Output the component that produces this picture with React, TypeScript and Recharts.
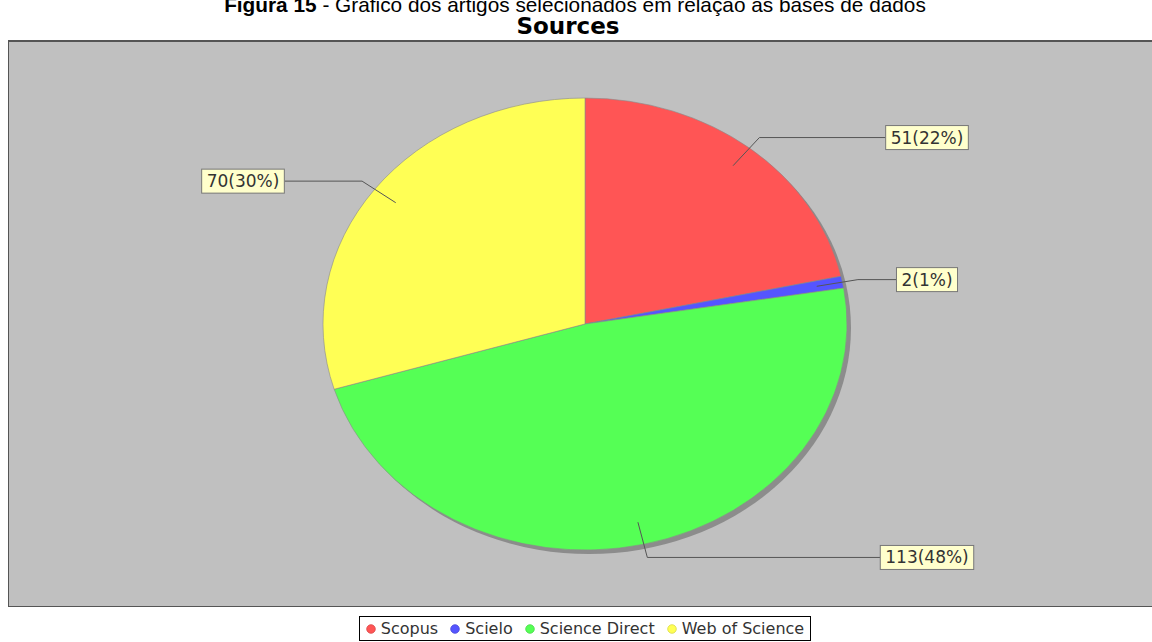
import React from "react";
import { Cell, Legend, Pie, PieChart } from "recharts";

const sourceNames = ["Scopus", "Scielo", "Science Direct", "Web of Science"];
const articleCounts = [51, 2, 113, 70];
const sliceColors = ["#FF5555", "#5555FF", "#55FF55", "#FFFF55"];
const legendEdges = ["#d94848", "#4848d9", "#48d948", "#d9d948"];

const data = sourceNames.map((name, i) => ({ name, value: articleCounts[i] }));

const START_ANGLE = 90;
const Y_SCALE = 226 / 262;
const LABEL_FONT = 17;

const pt = (cx: number, cy: number, r: number, deg: number) => {
  const a = (deg * Math.PI) / 180;
  return [cx + r * Math.cos(a), cy - r * Y_SCALE * Math.sin(a)];
};

// JFreeChart draws the pie as an ellipse, so the sectors are squashed here
const EllipseSector = (props: any) => {
  const { cx, cy, outerRadius, startAngle, endAngle, fill } = props;
  const [x1, y1] = pt(cx, cy, outerRadius, startAngle);
  const [x2, y2] = pt(cx, cy, outerRadius, endAngle);
  const large = Math.abs(startAngle - endAngle) > 180 ? 1 : 0;
  const sweep = startAngle > endAngle ? 1 : 0;
  const d = `M${cx},${cy} L${x1},${y1} A${outerRadius},${outerRadius * Y_SCALE} 0 ${large} ${sweep} ${x2},${y2} Z`;
  return (
    <g>
      {startAngle === START_ANGLE && (
        <ellipse cx={cx + 4} cy={cy + 4} rx={outerRadius} ry={outerRadius * Y_SCALE} fill="#8c8c8c" />
      )}
      <path d={d} fill={fill} stroke="#8a8a8a" strokeWidth={0.6} />
    </g>
  );
};

const charW = (ch: string) => (/\d/.test(ch) ? 0.636 : ch === "%" ? 0.95 : 0.39);

const renderLabel = (props: any) => {
  const { cx, cy, midAngle, outerRadius, value, percent } = props;
  const text = `${value}(${Math.round(percent * 100)}%)`;
  const [ax, ay] = pt(cx, cy, outerRadius * 0.9, midAngle);
  const [ex, ey] = pt(cx, cy, outerRadius * 1.06, midAngle);
  const right = Math.cos((midAngle * Math.PI) / 180) >= 0;
  const tw = [...text].reduce((s, c) => s + charW(c), 0) * LABEL_FONT;
  const bw = tw + 10;
  const bh = 24;
  const bx = cx + (right ? 342 : -342) - bw / 2;
  const edge = right ? bx : bx + bw;
  return (
    <g>
      <polyline
        points={`${ax},${ay} ${ex},${ey} ${edge},${ey}`}
        fill="none"
        stroke="#555"
        strokeWidth={1}
      />
      <rect x={bx} y={ey - bh / 2} width={bw} height={bh} fill="#FFFFCC" stroke="#777" strokeWidth={1} />
      <text
        x={bx + bw / 2}
        y={ey + 6}
        textAnchor="middle"
        fontFamily="DejaVu Sans"
        fontSize={LABEL_FONT}
        fill="#333"
      >
        {text}
      </text>
    </g>
  );
};

const LegendBox = () => (
  <div style={{ display: "flex", justifyContent: "center", paddingLeft: 18 }}>
    <div
      style={{
        display: "flex",
        alignItems: "center",
        border: "1px solid #000",
        height: 23,
        padding: "0 6px",
        background: "#fff",
        fontFamily: "DejaVu Sans",
        fontSize: 16,
        color: "#333",
      }}
    >
      {sourceNames.map((name, i) => (
        <span key={name} style={{ display: "flex", alignItems: "center", marginLeft: i ? 12 : 0 }}>
          <svg width={10} height={10}>
            <circle cx={5} cy={5} r={4.3} fill={sliceColors[i]} stroke={legendEdges[i]} strokeWidth={0.8} />
          </svg>
          <span style={{ marginLeft: 5 }}>{name}</span>
        </span>
      ))}
    </div>
  </div>
);

export default function App() {
  return (
    <div
      style={{
        position: "absolute",
        left: 0,
        top: 0,
        width: 1152,
        height: 642,
        overflow: "hidden",
        background: "#fff",
      }}
    >
      <div
        style={{
          position: "absolute",
          top: -5,
          left: 0,
          width: 1150,
          textAlign: "center",
          fontFamily: "Liberation Sans",
          fontSize: 20.8,
          lineHeight: "20px",
          color: "#000",
          whiteSpace: "nowrap",
        }}
      >
        <b>Figura 15</b> - Gráfico dos artigos selecionados em relação às bases de dados
      </div>
      <div
        style={{
          position: "absolute",
          top: 14,
          left: 0,
          width: 1136,
          textAlign: "center",
          fontFamily: "DejaVu Sans",
          fontWeight: "bold",
          fontSize: 23,
          lineHeight: "24px",
          color: "#000",
        }}
      >
        Sources
      </div>
      <div
        style={{
          position: "absolute",
          left: 8,
          top: 40,
          width: 1150,
          height: 564,
          background: "#C0C0C0",
          border: "1px solid #555",
          borderTopWidth: 2,
        }}
      />
      <div style={{ position: "absolute", left: 0, top: 0 }}>
        <PieChart width={1152} height={642} margin={{ top: 0, right: 0, bottom: 0, left: 0 }}>
          <Pie
            data={data}
            dataKey="value"
            nameKey="name"
            cx={585}
            cy={324}
            outerRadius={262}
            startAngle={START_ANGLE}
            endAngle={START_ANGLE - 360}
            shape={EllipseSector}
            activeShape={EllipseSector}
            inactiveShape={EllipseSector}
            label={renderLabel}
            labelLine={false}
            isAnimationActive={false}
          >
            {data.map((d, i) => (
              <Cell key={d.name} fill={sliceColors[i]} />
            ))}
          </Pie>
          <Legend
            verticalAlign="bottom"
            content={<LegendBox />}
            wrapperStyle={{ left: 0, top: 616, bottom: "auto", width: 1152 }}
          />
        </PieChart>
      </div>
    </div>
  );
}
